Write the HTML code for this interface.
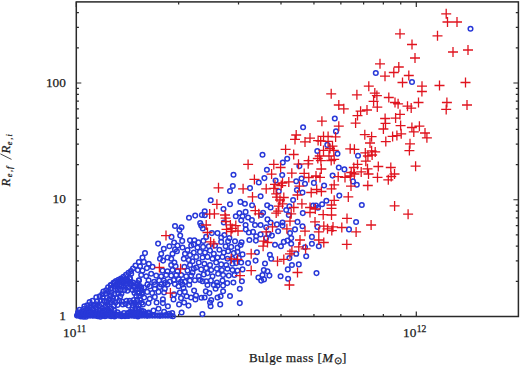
<!DOCTYPE html>
<html><head><meta charset="utf-8"><style>
html,body{margin:0;padding:0;background:#fff;width:520px;height:365px;overflow:hidden}
svg{display:block}
text{font-family:"Liberation Serif",serif;fill:#1a1a1a;stroke:#1a1a1a;stroke-width:0.25px}
</style></head><body>
<svg width="520" height="365" viewBox="0 0 520 365">
<rect x="76.3" y="1.9" width="442.1" height="314.6" fill="none" stroke="#2a2a2a" stroke-width="1.5"/>
<path d="M76.30 316.5v-5M76.30 1.9v5M178.65 316.5v-2.6M178.65 1.9v2.6M238.52 316.5v-2.6M238.52 1.9v2.6M281.00 316.5v-2.6M281.00 1.9v2.6M313.95 316.5v-2.6M313.95 1.9v2.6M340.87 316.5v-2.6M340.87 1.9v2.6M363.63 316.5v-2.6M363.63 1.9v2.6M383.35 316.5v-2.6M383.35 1.9v2.6M400.74 316.5v-2.6M400.74 1.9v2.6M416.30 316.5v-5M416.30 1.9v5M76.3 316.50h5M518.4 316.50h-5M76.3 281.35h2.6M518.4 281.35h-2.6M76.3 260.80h2.6M518.4 260.80h-2.6M76.3 246.21h2.6M518.4 246.21h-2.6M76.3 234.90h2.6M518.4 234.90h-2.6M76.3 225.65h2.6M518.4 225.65h-2.6M76.3 217.83h2.6M518.4 217.83h-2.6M76.3 211.06h2.6M518.4 211.06h-2.6M76.3 205.09h2.6M518.4 205.09h-2.6M76.3 199.75h5M518.4 199.75h-5M76.3 164.60h2.6M518.4 164.60h-2.6M76.3 144.05h2.6M518.4 144.05h-2.6M76.3 129.46h2.6M518.4 129.46h-2.6M76.3 118.15h2.6M518.4 118.15h-2.6M76.3 108.90h2.6M518.4 108.90h-2.6M76.3 101.08h2.6M518.4 101.08h-2.6M76.3 94.31h2.6M518.4 94.31h-2.6M76.3 88.34h2.6M518.4 88.34h-2.6M76.3 83.00h5M518.4 83.00h-5M76.3 47.85h2.6M518.4 47.85h-2.6M76.3 27.30h2.6M518.4 27.30h-2.6M76.3 12.71h2.6M518.4 12.71h-2.6" stroke="#2a2a2a" stroke-width="1.2" fill="none"/>
<g fill="none" stroke="#2838d8" stroke-width="1.5"><circle cx="470.5" cy="28.8" r="2.3"/><circle cx="412.0" cy="82.0" r="2.3"/><circle cx="375.8" cy="73.0" r="2.3"/><circle cx="334.8" cy="118.5" r="2.3"/><circle cx="303.1" cy="127.2" r="2.3"/><circle cx="262.5" cy="154.8" r="2.3"/><circle cx="287.2" cy="158.8" r="2.3"/><circle cx="282.8" cy="162.5" r="2.3"/><circle cx="266.9" cy="169.8" r="2.3"/><circle cx="299.4" cy="166.1" r="2.3"/><circle cx="317.3" cy="151.0" r="2.3"/><circle cx="282.2" cy="175.0" r="2.3"/><circle cx="301.5" cy="178.5" r="2.3"/><circle cx="336.0" cy="131.4" r="2.3"/><circle cx="327.3" cy="144.9" r="2.3"/><circle cx="337.5" cy="153.7" r="2.3"/><circle cx="358.0" cy="155.7" r="2.3"/><circle cx="338.8" cy="167.5" r="2.3"/><circle cx="344.4" cy="169.4" r="2.3"/><circle cx="332.6" cy="175.6" r="2.3"/><circle cx="233.5" cy="174.8" r="2.3"/><circle cx="232.8" cy="186.0" r="2.3"/><circle cx="230.0" cy="191.0" r="2.3"/><circle cx="250.0" cy="188.1" r="2.3"/><circle cx="210.7" cy="200.3" r="2.3"/><circle cx="230.0" cy="204.2" r="2.3"/><circle cx="240.4" cy="201.9" r="2.3"/><circle cx="244.9" cy="203.8" r="2.3"/><circle cx="252.1" cy="205.3" r="2.3"/><circle cx="264.4" cy="178.1" r="2.3"/><circle cx="258.8" cy="182.5" r="2.3"/><circle cx="260.6" cy="196.2" r="2.3"/><circle cx="267.2" cy="205.3" r="2.3"/><circle cx="270.6" cy="207.5" r="2.3"/><circle cx="263.1" cy="212.8" r="2.3"/><circle cx="275.6" cy="180.6" r="2.3"/><circle cx="278.8" cy="191.2" r="2.3"/><circle cx="296.2" cy="181.2" r="2.3"/><circle cx="305.0" cy="183.8" r="2.3"/><circle cx="296.9" cy="190.0" r="2.3"/><circle cx="302.5" cy="192.5" r="2.3"/><circle cx="313.9" cy="182.9" r="2.3"/><circle cx="293.1" cy="200.0" r="2.3"/><circle cx="289.4" cy="206.2" r="2.3"/><circle cx="286.2" cy="210.0" r="2.3"/><circle cx="302.8" cy="213.1" r="2.3"/><circle cx="313.1" cy="205.6" r="2.3"/><circle cx="324.1" cy="185.5" r="2.3"/><circle cx="353.0" cy="181.4" r="2.3"/><circle cx="356.8" cy="184.8" r="2.3"/><circle cx="339.3" cy="195.6" r="2.3"/><circle cx="326.4" cy="200.7" r="2.3"/><circle cx="322.1" cy="204.3" r="2.3"/><circle cx="316.0" cy="205.6" r="2.3"/><circle cx="318.0" cy="207.7" r="2.3"/><circle cx="361.8" cy="205.0" r="2.3"/><circle cx="356.1" cy="222.0" r="2.3"/><circle cx="189.0" cy="217.8" r="2.3"/><circle cx="195.2" cy="215.6" r="2.3"/><circle cx="201.9" cy="215.0" r="2.3"/><circle cx="204.7" cy="211.2" r="2.3"/><circle cx="204.8" cy="215.2" r="2.3"/><circle cx="200.2" cy="223.1" r="2.3"/><circle cx="201.2" cy="225.6" r="2.3"/><circle cx="202.8" cy="228.5" r="2.3"/><circle cx="175.0" cy="226.0" r="2.3"/><circle cx="181.5" cy="227.2" r="2.3"/><circle cx="179.4" cy="230.0" r="2.3"/><circle cx="171.5" cy="236.9" r="2.3"/><circle cx="180.2" cy="235.6" r="2.3"/><circle cx="182.2" cy="240.9" r="2.3"/><circle cx="174.1" cy="242.5" r="2.3"/><circle cx="158.1" cy="243.6" r="2.3"/><circle cx="190.0" cy="240.3" r="2.3"/><circle cx="194.4" cy="240.2" r="2.3"/><circle cx="198.4" cy="242.4" r="2.3"/><circle cx="203.4" cy="240.9" r="2.3"/><circle cx="206.2" cy="236.9" r="2.3"/><circle cx="223.5" cy="209.0" r="2.3"/><circle cx="235.8" cy="216.2" r="2.3"/><circle cx="239.4" cy="213.1" r="2.3"/><circle cx="242.5" cy="216.2" r="2.3"/><circle cx="245.6" cy="211.9" r="2.3"/><circle cx="248.1" cy="217.5" r="2.3"/><circle cx="251.9" cy="220.0" r="2.3"/><circle cx="255.0" cy="225.0" r="2.3"/><circle cx="261.2" cy="215.0" r="2.3"/><circle cx="267.5" cy="219.4" r="2.3"/><circle cx="260.6" cy="225.0" r="2.3"/><circle cx="266.2" cy="227.2" r="2.3"/><circle cx="241.2" cy="220.3" r="2.3"/><circle cx="245.6" cy="225.0" r="2.3"/><circle cx="245.8" cy="229.4" r="2.3"/><circle cx="248.8" cy="232.5" r="2.3"/><circle cx="253.1" cy="231.9" r="2.3"/><circle cx="256.2" cy="236.2" r="2.3"/><circle cx="260.6" cy="234.4" r="2.3"/><circle cx="223.8" cy="222.5" r="2.3"/><circle cx="211.9" cy="233.1" r="2.3"/><circle cx="217.5" cy="233.1" r="2.3"/><circle cx="224.4" cy="235.0" r="2.3"/><circle cx="221.2" cy="237.5" r="2.3"/><circle cx="229.4" cy="238.1" r="2.3"/><circle cx="235.0" cy="241.2" r="2.3"/><circle cx="249.4" cy="240.0" r="2.3"/><circle cx="255.9" cy="240.6" r="2.3"/><circle cx="266.2" cy="238.1" r="2.3"/><circle cx="268.8" cy="233.8" r="2.3"/><circle cx="241.6" cy="242.2" r="2.3"/><circle cx="288.8" cy="215.0" r="2.3"/><circle cx="270.6" cy="222.5" r="2.3"/><circle cx="276.9" cy="224.4" r="2.3"/><circle cx="282.5" cy="222.5" r="2.3"/><circle cx="282.5" cy="225.6" r="2.3"/><circle cx="278.1" cy="231.2" r="2.3"/><circle cx="271.9" cy="235.6" r="2.3"/><circle cx="290.0" cy="233.1" r="2.3"/><circle cx="295.0" cy="229.4" r="2.3"/><circle cx="297.5" cy="221.9" r="2.3"/><circle cx="302.5" cy="226.2" r="2.3"/><circle cx="275.0" cy="244.7" r="2.3"/><circle cx="280.9" cy="246.2" r="2.3"/><circle cx="283.8" cy="241.9" r="2.3"/><circle cx="287.5" cy="240.6" r="2.3"/><circle cx="291.2" cy="243.8" r="2.3"/><circle cx="291.2" cy="238.1" r="2.3"/><circle cx="311.9" cy="236.9" r="2.3"/><circle cx="311.9" cy="243.8" r="2.3"/><circle cx="317.5" cy="226.9" r="2.3"/><circle cx="318.8" cy="246.2" r="2.3"/><circle cx="269.9" cy="254.7" r="2.3"/><circle cx="305.0" cy="247.2" r="2.3"/><circle cx="349.0" cy="229.4" r="2.3"/><circle cx="256.9" cy="252.3" r="2.3"/><circle cx="255.6" cy="260.6" r="2.3"/><circle cx="271.2" cy="258.8" r="2.3"/><circle cx="265.0" cy="263.5" r="2.3"/><circle cx="263.8" cy="270.0" r="2.3"/><circle cx="267.5" cy="271.2" r="2.3"/><circle cx="269.4" cy="275.6" r="2.3"/><circle cx="262.5" cy="275.0" r="2.3"/><circle cx="258.4" cy="277.5" r="2.3"/><circle cx="264.0" cy="279.4" r="2.3"/><circle cx="280.6" cy="276.2" r="2.3"/><circle cx="288.1" cy="278.8" r="2.3"/><circle cx="289.4" cy="258.1" r="2.3"/><circle cx="291.9" cy="265.0" r="2.3"/><circle cx="298.8" cy="264.4" r="2.3"/><circle cx="287.8" cy="269.4" r="2.3"/><circle cx="306.2" cy="256.2" r="2.3"/><circle cx="296.2" cy="253.8" r="2.3"/><circle cx="316.5" cy="273.1" r="2.3"/><circle cx="221.2" cy="241.9" r="2.3"/><circle cx="228.1" cy="241.2" r="2.3"/><circle cx="197.5" cy="247.5" r="2.3"/><circle cx="203.1" cy="246.9" r="2.3"/><circle cx="208.8" cy="246.2" r="2.3"/><circle cx="215.0" cy="245.6" r="2.3"/><circle cx="219.4" cy="249.7" r="2.3"/><circle cx="225.6" cy="246.2" r="2.3"/><circle cx="231.2" cy="246.9" r="2.3"/><circle cx="237.5" cy="247.5" r="2.3"/><circle cx="240.6" cy="245.0" r="2.3"/><circle cx="200.0" cy="251.9" r="2.3"/><circle cx="205.0" cy="252.5" r="2.3"/><circle cx="210.0" cy="250.6" r="2.3"/><circle cx="213.8" cy="253.8" r="2.3"/><circle cx="223.8" cy="252.5" r="2.3"/><circle cx="228.1" cy="251.2" r="2.3"/><circle cx="233.8" cy="253.1" r="2.3"/><circle cx="237.5" cy="251.9" r="2.3"/><circle cx="242.5" cy="254.4" r="2.3"/><circle cx="196.2" cy="256.9" r="2.3"/><circle cx="202.5" cy="257.5" r="2.3"/><circle cx="207.5" cy="256.9" r="2.3"/><circle cx="212.5" cy="258.8" r="2.3"/><circle cx="217.5" cy="257.5" r="2.3"/><circle cx="222.5" cy="256.9" r="2.3"/><circle cx="227.5" cy="258.8" r="2.3"/><circle cx="232.5" cy="258.8" r="2.3"/><circle cx="238.8" cy="258.1" r="2.3"/><circle cx="198.8" cy="262.5" r="2.3"/><circle cx="204.4" cy="263.8" r="2.3"/><circle cx="210.0" cy="265.0" r="2.3"/><circle cx="216.2" cy="262.5" r="2.3"/><circle cx="221.2" cy="264.4" r="2.3"/><circle cx="226.2" cy="265.0" r="2.3"/><circle cx="232.5" cy="263.8" r="2.3"/><circle cx="236.2" cy="263.1" r="2.3"/><circle cx="241.2" cy="262.5" r="2.3"/><circle cx="248.1" cy="263.1" r="2.3"/><circle cx="196.2" cy="267.5" r="2.3"/><circle cx="201.2" cy="269.4" r="2.3"/><circle cx="206.2" cy="268.1" r="2.3"/><circle cx="211.2" cy="270.0" r="2.3"/><circle cx="216.9" cy="268.8" r="2.3"/><circle cx="221.9" cy="270.0" r="2.3"/><circle cx="227.5" cy="268.8" r="2.3"/><circle cx="232.5" cy="270.0" r="2.3"/><circle cx="237.5" cy="270.6" r="2.3"/><circle cx="242.5" cy="269.4" r="2.3"/><circle cx="198.8" cy="276.2" r="2.3"/><circle cx="203.8" cy="274.4" r="2.3"/><circle cx="207.5" cy="273.1" r="2.3"/><circle cx="212.5" cy="276.2" r="2.3"/><circle cx="218.1" cy="273.8" r="2.3"/><circle cx="223.1" cy="275.0" r="2.3"/><circle cx="228.8" cy="275.6" r="2.3"/><circle cx="234.4" cy="275.0" r="2.3"/><circle cx="200.0" cy="280.0" r="2.3"/><circle cx="206.2" cy="281.2" r="2.3"/><circle cx="210.9" cy="280.6" r="2.3"/><circle cx="216.9" cy="282.5" r="2.3"/><circle cx="222.5" cy="280.6" r="2.3"/><circle cx="227.2" cy="283.1" r="2.3"/><circle cx="233.4" cy="282.5" r="2.3"/><circle cx="241.9" cy="281.2" r="2.3"/><circle cx="193.8" cy="244.4" r="2.3"/><circle cx="163.8" cy="248.8" r="2.3"/><circle cx="169.4" cy="246.2" r="2.3"/><circle cx="175.0" cy="249.4" r="2.3"/><circle cx="177.5" cy="245.6" r="2.3"/><circle cx="182.5" cy="247.5" r="2.3"/><circle cx="187.5" cy="250.0" r="2.3"/><circle cx="191.2" cy="245.6" r="2.3"/><circle cx="145.0" cy="253.1" r="2.3"/><circle cx="161.2" cy="253.8" r="2.3"/><circle cx="167.5" cy="257.5" r="2.3"/><circle cx="172.5" cy="253.8" r="2.3"/><circle cx="176.9" cy="251.2" r="2.3"/><circle cx="185.0" cy="253.8" r="2.3"/><circle cx="190.0" cy="255.0" r="2.3"/><circle cx="193.8" cy="252.5" r="2.3"/><circle cx="142.5" cy="257.5" r="2.3"/><circle cx="160.0" cy="258.8" r="2.3"/><circle cx="163.1" cy="260.6" r="2.3"/><circle cx="171.2" cy="258.8" r="2.3"/><circle cx="174.4" cy="262.5" r="2.3"/><circle cx="183.8" cy="258.8" r="2.3"/><circle cx="188.8" cy="260.0" r="2.3"/><circle cx="192.5" cy="261.2" r="2.3"/><circle cx="138.9" cy="262.1" r="2.3"/><circle cx="143.8" cy="261.9" r="2.3"/><circle cx="148.8" cy="263.8" r="2.3"/><circle cx="152.5" cy="266.9" r="2.3"/><circle cx="140.0" cy="266.2" r="2.3"/><circle cx="135.5" cy="265.5" r="2.3"/><circle cx="171.2" cy="265.0" r="2.3"/><circle cx="175.6" cy="266.2" r="2.3"/><circle cx="184.4" cy="266.9" r="2.3"/><circle cx="190.0" cy="265.0" r="2.3"/><circle cx="193.8" cy="268.8" r="2.3"/><circle cx="133.0" cy="268.6" r="2.3"/><circle cx="137.8" cy="270.1" r="2.3"/><circle cx="142.5" cy="270.6" r="2.3"/><circle cx="146.9" cy="268.1" r="2.3"/><circle cx="162.5" cy="270.6" r="2.3"/><circle cx="167.5" cy="271.2" r="2.3"/><circle cx="172.5" cy="270.0" r="2.3"/><circle cx="177.5" cy="271.2" r="2.3"/><circle cx="187.5" cy="270.6" r="2.3"/><circle cx="192.5" cy="272.5" r="2.3"/><circle cx="131.2" cy="273.8" r="2.3"/><circle cx="141.2" cy="275.0" r="2.3"/><circle cx="146.2" cy="276.2" r="2.3"/><circle cx="151.2" cy="273.8" r="2.3"/><circle cx="156.2" cy="275.6" r="2.3"/><circle cx="161.2" cy="276.2" r="2.3"/><circle cx="166.2" cy="275.0" r="2.3"/><circle cx="171.2" cy="275.6" r="2.3"/><circle cx="176.2" cy="275.0" r="2.3"/><circle cx="181.2" cy="275.0" r="2.3"/><circle cx="186.2" cy="276.2" r="2.3"/><circle cx="191.2" cy="275.6" r="2.3"/><circle cx="138.8" cy="280.6" r="2.3"/><circle cx="148.6" cy="280.3" r="2.3"/><circle cx="154.2" cy="281.9" r="2.3"/><circle cx="159.2" cy="280.6" r="2.3"/><circle cx="163.8" cy="280.6" r="2.3"/><circle cx="169.9" cy="281.6" r="2.3"/><circle cx="173.8" cy="280.0" r="2.3"/><circle cx="178.8" cy="279.4" r="2.3"/><circle cx="184.9" cy="281.9" r="2.3"/><circle cx="189.9" cy="280.6" r="2.3"/><circle cx="194.9" cy="280.3" r="2.3"/><circle cx="131.1" cy="283.6" r="2.3"/><circle cx="136.8" cy="284.6" r="2.3"/><circle cx="147.5" cy="284.4" r="2.3"/><circle cx="155.0" cy="284.4" r="2.3"/><circle cx="161.2" cy="284.4" r="2.3"/><circle cx="167.5" cy="284.4" r="2.3"/><circle cx="174.9" cy="284.1" r="2.3"/><circle cx="182.5" cy="284.4" r="2.3"/><circle cx="189.2" cy="284.7" r="2.3"/><circle cx="131.0" cy="271.1" r="2.3"/><circle cx="128.5" cy="272.9" r="2.3"/><circle cx="126.0" cy="274.8" r="2.3"/><circle cx="123.5" cy="276.7" r="2.3"/><circle cx="121.0" cy="278.6" r="2.3"/><circle cx="118.5" cy="279.8" r="2.3"/><circle cx="116.0" cy="281.1" r="2.3"/><circle cx="113.5" cy="282.9" r="2.3"/><circle cx="111.0" cy="285.4" r="2.3"/><circle cx="129.8" cy="277.9" r="2.3"/><circle cx="127.2" cy="279.8" r="2.3"/><circle cx="124.8" cy="281.1" r="2.3"/><circle cx="122.2" cy="282.3" r="2.3"/><circle cx="119.8" cy="284.2" r="2.3"/><circle cx="117.2" cy="285.4" r="2.3"/><circle cx="114.8" cy="286.7" r="2.3"/><circle cx="126.0" cy="285.4" r="2.3"/><circle cx="123.5" cy="286.7" r="2.3"/><circle cx="133.5" cy="286.7" r="2.3"/><circle cx="139.8" cy="286.1" r="2.3"/><circle cx="164.8" cy="283.1" r="2.3"/><circle cx="181.0" cy="281.9" r="2.3"/><circle cx="144.1" cy="287.5" r="2.3"/><circle cx="149.8" cy="286.2" r="2.3"/><circle cx="154.8" cy="288.8" r="2.3"/><circle cx="159.8" cy="286.9" r="2.3"/><circle cx="164.8" cy="288.8" r="2.3"/><circle cx="178.5" cy="286.2" r="2.3"/><circle cx="183.5" cy="288.1" r="2.3"/><circle cx="142.2" cy="292.5" r="2.3"/><circle cx="147.2" cy="291.9" r="2.3"/><circle cx="152.2" cy="293.1" r="2.3"/><circle cx="158.5" cy="291.9" r="2.3"/><circle cx="164.1" cy="292.5" r="2.3"/><circle cx="174.1" cy="294.4" r="2.3"/><circle cx="179.8" cy="292.5" r="2.3"/><circle cx="184.8" cy="291.9" r="2.3"/><circle cx="194.1" cy="290.6" r="2.3"/><circle cx="205.8" cy="291.2" r="2.3"/><circle cx="144.1" cy="297.5" r="2.3"/><circle cx="149.8" cy="298.8" r="2.3"/><circle cx="154.8" cy="296.9" r="2.3"/><circle cx="162.9" cy="299.4" r="2.3"/><circle cx="173.5" cy="299.4" r="2.3"/><circle cx="181.0" cy="298.1" r="2.3"/><circle cx="186.6" cy="296.2" r="2.3"/><circle cx="191.0" cy="297.5" r="2.3"/><circle cx="196.0" cy="295.6" r="2.3"/><circle cx="195.4" cy="299.4" r="2.3"/><circle cx="201.4" cy="297.8" r="2.3"/><circle cx="204.6" cy="297.5" r="2.3"/><circle cx="142.9" cy="304.4" r="2.3"/><circle cx="148.5" cy="303.1" r="2.3"/><circle cx="156.6" cy="302.5" r="2.3"/><circle cx="162.9" cy="303.1" r="2.3"/><circle cx="167.9" cy="306.2" r="2.3"/><circle cx="179.1" cy="304.4" r="2.3"/><circle cx="184.1" cy="302.5" r="2.3"/><circle cx="188.5" cy="305.6" r="2.3"/><circle cx="143.5" cy="311.2" r="2.3"/><circle cx="148.5" cy="312.5" r="2.3"/><circle cx="153.5" cy="310.6" r="2.3"/><circle cx="158.5" cy="308.8" r="2.3"/><circle cx="164.1" cy="311.9" r="2.3"/><circle cx="169.1" cy="313.8" r="2.3"/><circle cx="172.2" cy="313.1" r="2.3"/><circle cx="181.6" cy="312.5" r="2.3"/><circle cx="202.4" cy="314.1" r="2.3"/><circle cx="142.2" cy="314.4" r="2.3"/><circle cx="147.2" cy="315.6" r="2.3"/><circle cx="153.5" cy="315.0" r="2.3"/><circle cx="159.8" cy="315.6" r="2.3"/><circle cx="166.0" cy="315.0" r="2.3"/><circle cx="172.9" cy="316.2" r="2.3"/><circle cx="202.5" cy="281.2" r="2.3"/><circle cx="207.5" cy="285.0" r="2.3"/><circle cx="213.8" cy="285.0" r="2.3"/><circle cx="217.5" cy="285.6" r="2.3"/><circle cx="223.1" cy="285.6" r="2.3"/><circle cx="239.8" cy="288.8" r="2.3"/><circle cx="215.6" cy="288.8" r="2.3"/><circle cx="209.4" cy="293.1" r="2.3"/><circle cx="223.1" cy="291.2" r="2.3"/><circle cx="217.5" cy="297.5" r="2.3"/><circle cx="220.6" cy="296.2" r="2.3"/><circle cx="230.0" cy="296.0" r="2.3"/><circle cx="211.2" cy="300.0" r="2.3"/><circle cx="210.0" cy="302.5" r="2.3"/><circle cx="210.6" cy="306.2" r="2.3"/><circle cx="220.2" cy="304.4" r="2.3"/><circle cx="239.8" cy="303.1" r="2.3"/><circle cx="261.2" cy="280.6" r="2.3"/><circle cx="119.1" cy="281.8" r="2.3"/><circle cx="111.6" cy="292.9" r="2.3"/><circle cx="104.3" cy="310.4" r="2.3"/><circle cx="117.6" cy="315.0" r="2.3"/><circle cx="114.3" cy="294.1" r="2.3"/><circle cx="132.7" cy="290.0" r="2.3"/><circle cx="96.7" cy="310.0" r="2.3"/><circle cx="118.3" cy="293.2" r="2.3"/><circle cx="97.1" cy="301.3" r="2.3"/><circle cx="106.2" cy="290.4" r="2.3"/><circle cx="128.5" cy="305.6" r="2.3"/><circle cx="92.5" cy="300.8" r="2.3"/><circle cx="110.9" cy="312.3" r="2.3"/><circle cx="124.3" cy="289.9" r="2.3"/><circle cx="126.6" cy="300.8" r="2.3"/><circle cx="122.0" cy="301.6" r="2.3"/><circle cx="131.5" cy="314.9" r="2.3"/><circle cx="107.6" cy="304.2" r="2.3"/><circle cx="101.8" cy="304.4" r="2.3"/><circle cx="102.1" cy="312.1" r="2.3"/><circle cx="130.2" cy="311.8" r="2.3"/><circle cx="115.1" cy="289.0" r="2.3"/><circle cx="100.7" cy="300.5" r="2.3"/><circle cx="138.9" cy="305.2" r="2.3"/><circle cx="110.3" cy="302.5" r="2.3"/><circle cx="135.4" cy="308.6" r="2.3"/><circle cx="102.2" cy="294.2" r="2.3"/><circle cx="78.2" cy="312.2" r="2.3"/><circle cx="116.7" cy="284.6" r="2.3"/><circle cx="107.0" cy="297.4" r="2.3"/><circle cx="130.8" cy="285.1" r="2.3"/><circle cx="78.0" cy="315.1" r="2.3"/><circle cx="111.1" cy="316.2" r="2.3"/><circle cx="133.0" cy="305.5" r="2.3"/><circle cx="87.4" cy="308.3" r="2.3"/><circle cx="111.4" cy="308.6" r="2.3"/><circle cx="132.3" cy="309.6" r="2.3"/><circle cx="93.5" cy="305.3" r="2.3"/><circle cx="139.2" cy="296.0" r="2.3"/><circle cx="137.9" cy="316.5" r="2.3"/><circle cx="139.1" cy="292.9" r="2.3"/><circle cx="102.8" cy="315.0" r="2.3"/><circle cx="124.0" cy="285.5" r="2.3"/><circle cx="85.1" cy="313.6" r="2.3"/><circle cx="99.7" cy="296.4" r="2.3"/><circle cx="114.7" cy="313.4" r="2.3"/><circle cx="109.4" cy="299.2" r="2.3"/><circle cx="136.3" cy="295.8" r="2.3"/><circle cx="116.6" cy="298.2" r="2.3"/><circle cx="107.8" cy="314.8" r="2.3"/><circle cx="138.2" cy="288.9" r="2.3"/><circle cx="127.8" cy="313.1" r="2.3"/><circle cx="134.3" cy="315.8" r="2.3"/><circle cx="90.9" cy="315.2" r="2.3"/><circle cx="102.6" cy="297.5" r="2.3"/><circle cx="141.3" cy="310.6" r="2.3"/><circle cx="123.8" cy="279.7" r="2.3"/><circle cx="80.7" cy="316.4" r="2.3"/><circle cx="128.1" cy="315.9" r="2.3"/><circle cx="113.9" cy="305.6" r="2.3"/><circle cx="82.0" cy="311.5" r="2.3"/><circle cx="111.0" cy="288.1" r="2.3"/><circle cx="137.7" cy="283.0" r="2.3"/><circle cx="108.9" cy="310.7" r="2.3"/><circle cx="121.5" cy="316.3" r="2.3"/><circle cx="93.7" cy="315.5" r="2.3"/><circle cx="140.2" cy="299.8" r="2.3"/><circle cx="125.7" cy="304.0" r="2.3"/><circle cx="134.9" cy="302.8" r="2.3"/><circle cx="117.5" cy="304.9" r="2.3"/><circle cx="125.0" cy="316.1" r="2.3"/><circle cx="120.8" cy="290.1" r="2.3"/><circle cx="135.0" cy="286.6" r="2.3"/><circle cx="140.6" cy="314.6" r="2.3"/><circle cx="135.6" cy="290.0" r="2.3"/><circle cx="96.0" cy="307.1" r="2.3"/><circle cx="120.2" cy="314.2" r="2.3"/><circle cx="121.2" cy="286.5" r="2.3"/><circle cx="91.0" cy="307.9" r="2.3"/><circle cx="135.3" cy="312.6" r="2.3"/><circle cx="99.9" cy="310.2" r="2.3"/><circle cx="126.7" cy="280.5" r="2.3"/><circle cx="97.8" cy="316.2" r="2.3"/><circle cx="115.5" cy="302.6" r="2.3"/><circle cx="87.2" cy="305.4" r="2.3"/><circle cx="128.0" cy="287.4" r="2.3"/><circle cx="124.0" cy="313.1" r="2.3"/><circle cx="104.0" cy="301.1" r="2.3"/><circle cx="133.7" cy="300.1" r="2.3"/><circle cx="83.4" cy="316.7" r="2.3"/><circle cx="89.6" cy="302.1" r="2.3"/><circle cx="105.1" cy="306.5" r="2.3"/><circle cx="117.9" cy="289.9" r="2.3"/><circle cx="99.2" cy="305.8" r="2.3"/><circle cx="133.0" cy="282.5" r="2.3"/><circle cx="86.7" cy="311.0" r="2.3"/><circle cx="110.7" cy="285.1" r="2.3"/><circle cx="90.3" cy="305.0" r="2.3"/><circle cx="102.2" cy="308.0" r="2.3"/><circle cx="96.3" cy="297.2" r="2.3"/><circle cx="120.2" cy="296.4" r="2.3"/><circle cx="129.6" cy="300.9" r="2.3"/><circle cx="130.0" cy="282.0" r="2.3"/><circle cx="138.4" cy="308.8" r="2.3"/><circle cx="120.9" cy="279.5" r="2.3"/><circle cx="131.7" cy="302.9" r="2.3"/><circle cx="97.3" cy="313.3" r="2.3"/><circle cx="100.4" cy="316.7" r="2.3"/><circle cx="84.4" cy="306.2" r="2.3"/><circle cx="92.9" cy="310.1" r="2.3"/><circle cx="122.5" cy="282.9" r="2.3"/><circle cx="105.0" cy="316.3" r="2.3"/><circle cx="113.0" cy="297.7" r="2.3"/><circle cx="114.6" cy="282.3" r="2.3"/><circle cx="121.4" cy="293.8" r="2.3"/><circle cx="106.0" cy="293.7" r="2.3"/><circle cx="83.8" cy="309.1" r="2.3"/><circle cx="122.8" cy="304.5" r="2.3"/><circle cx="110.3" cy="295.9" r="2.3"/><circle cx="126.1" cy="283.4" r="2.3"/><circle cx="114.5" cy="316.5" r="2.3"/><circle cx="137.1" cy="300.4" r="2.3"/><circle cx="127.3" cy="290.8" r="2.3"/><circle cx="141.3" cy="287.7" r="2.3"/><circle cx="90.2" cy="312.6" r="2.3"/><circle cx="94.3" cy="312.9" r="2.3"/><circle cx="87.6" cy="314.8" r="2.3"/><circle cx="114.2" cy="310.4" r="2.3"/><circle cx="100.3" cy="313.9" r="2.3"/><circle cx="141.4" cy="290.6" r="2.3"/><circle cx="119.2" cy="300.6" r="2.3"/><circle cx="113.9" cy="285.9" r="2.3"/><circle cx="82.4" cy="314.2" r="2.3"/><circle cx="138.3" cy="311.7" r="2.3"/><circle cx="106.4" cy="311.8" r="2.3"/><circle cx="134.5" cy="293.0" r="2.3"/><circle cx="141.6" cy="302.7" r="2.3"/><circle cx="136.1" cy="305.8" r="2.3"/><circle cx="109.5" cy="306.3" r="2.3"/><circle cx="108.8" cy="291.7" r="2.3"/><circle cx="106.6" cy="309.2" r="2.3"/><circle cx="141.9" cy="293.9" r="2.3"/><circle cx="108.1" cy="287.3" r="2.3"/><circle cx="130.1" cy="279.1" r="2.3"/><circle cx="132.8" cy="312.2" r="2.3"/><circle cx="96.1" cy="304.2" r="2.3"/><circle cx="112.8" cy="300.8" r="2.3"/><circle cx="137.8" cy="286.0" r="2.3"/><circle cx="117.5" cy="312.4" r="2.3"/><circle cx="79.5" cy="309.9" r="2.3"/><circle cx="139.0" cy="280.2" r="2.3"/><circle cx="106.9" cy="301.2" r="2.3"/><circle cx="86.0" cy="316.7" r="2.3"/><circle cx="103.4" cy="291.6" r="2.3"/><circle cx="89.4" cy="309.9" r="2.3"/><circle cx="77.0" cy="315.6" r="2.3"/><circle cx="79.6" cy="315.6" r="2.3"/><circle cx="82.2" cy="315.6" r="2.3"/><circle cx="84.8" cy="315.6" r="2.3"/><circle cx="87.4" cy="315.6" r="2.3"/><circle cx="90.0" cy="315.6" r="2.3"/><circle cx="92.6" cy="315.6" r="2.3"/><circle cx="95.2" cy="315.6" r="2.3"/><circle cx="97.8" cy="315.6" r="2.3"/><circle cx="100.4" cy="315.6" r="2.3"/><circle cx="103.0" cy="315.6" r="2.3"/><circle cx="105.6" cy="315.6" r="2.3"/><circle cx="108.2" cy="315.6" r="2.3"/><circle cx="110.8" cy="315.6" r="2.3"/><circle cx="113.4" cy="315.6" r="2.3"/><circle cx="116.0" cy="315.6" r="2.3"/><circle cx="118.6" cy="315.6" r="2.3"/><circle cx="121.2" cy="315.6" r="2.3"/><circle cx="123.8" cy="315.6" r="2.3"/><circle cx="126.4" cy="315.6" r="2.3"/><circle cx="129.0" cy="315.6" r="2.3"/><circle cx="131.6" cy="315.6" r="2.3"/><circle cx="134.2" cy="315.6" r="2.3"/><circle cx="136.8" cy="315.6" r="2.3"/><circle cx="139.4" cy="315.6" r="2.3"/><circle cx="142.0" cy="315.6" r="2.3"/><circle cx="144.6" cy="315.6" r="2.3"/><circle cx="147.2" cy="315.6" r="2.3"/><circle cx="149.8" cy="315.6" r="2.3"/><circle cx="152.4" cy="315.6" r="2.3"/><circle cx="155.0" cy="315.6" r="2.3"/><circle cx="157.6" cy="315.6" r="2.3"/><circle cx="160.2" cy="315.6" r="2.3"/><circle cx="162.8" cy="315.6" r="2.3"/><circle cx="165.4" cy="315.6" r="2.3"/><circle cx="168.0" cy="315.6" r="2.3"/><circle cx="170.6" cy="315.6" r="2.3"/><circle cx="78.2" cy="313.2" r="2.3"/><circle cx="81.0" cy="313.2" r="2.3"/><circle cx="83.8" cy="313.2" r="2.3"/><circle cx="86.6" cy="313.2" r="2.3"/><circle cx="89.4" cy="313.2" r="2.3"/><circle cx="92.2" cy="313.2" r="2.3"/><circle cx="95.0" cy="313.2" r="2.3"/><circle cx="97.8" cy="313.2" r="2.3"/><circle cx="100.6" cy="313.2" r="2.3"/><circle cx="103.4" cy="313.2" r="2.3"/><circle cx="106.2" cy="313.2" r="2.3"/><circle cx="109.0" cy="313.2" r="2.3"/><circle cx="111.8" cy="313.2" r="2.3"/><circle cx="128.6" cy="313.2" r="2.3"/><circle cx="131.4" cy="313.2" r="2.3"/><circle cx="134.2" cy="313.2" r="2.3"/><circle cx="137.0" cy="313.2" r="2.3"/><circle cx="139.8" cy="313.2" r="2.3"/><circle cx="142.6" cy="313.2" r="2.3"/><circle cx="145.4" cy="313.2" r="2.3"/><circle cx="148.2" cy="313.2" r="2.3"/></g>
<path d="M441.2 13.8h10.0M446.2 8.8v10.0M442.5 22.0h10.0M447.5 17.0v10.0M452.0 22.0h10.0M457.0 17.0v10.0M395.0 33.8h10.0M400.0 28.8v10.0M432.5 35.8h10.0M437.5 30.8v10.0M407.0 44.5h10.0M412.0 39.5v10.0M448.0 52.0h10.0M453.0 47.0v10.0M463.0 50.0h10.0M468.0 45.0v10.0M410.0 58.0h10.0M415.0 53.0v10.0M393.8 67.0h10.0M398.8 62.0v10.0M388.8 72.5h10.0M393.8 67.5v10.0M403.8 75.5h10.0M408.8 70.5v10.0M397.5 82.5h10.0M402.5 77.5v10.0M417.0 86.2h10.0M422.0 81.2v10.0M434.5 85.5h10.0M439.5 80.5v10.0M460.5 82.5h10.0M465.5 77.5v10.0M375.0 63.8h10.0M380.0 58.8v10.0M380.0 76.2h10.0M385.0 71.2v10.0M363.8 86.2h10.0M368.8 81.2v10.0M416.9 91.5h10.0M421.9 86.5v10.0M383.8 97.5h10.0M388.8 92.5v10.0M390.0 102.5h10.0M395.0 97.5v10.0M393.1 103.8h10.0M398.1 98.8v10.0M402.5 106.2h10.0M407.5 101.2v10.0M406.2 108.1h10.0M411.2 103.1v10.0M413.5 102.5h10.0M418.5 97.5v10.0M441.9 102.5h10.0M446.9 97.5v10.0M441.2 109.4h10.0M446.2 104.4v10.0M395.0 114.4h10.0M400.0 109.4v10.0M390.6 118.1h10.0M395.6 113.1v10.0M395.6 125.6h10.0M400.6 120.6v10.0M406.9 127.5h10.0M411.9 122.5v10.0M414.4 126.2h10.0M419.4 121.2v10.0M420.0 133.0h10.0M425.0 128.0v10.0M462.0 105.0h10.0M467.0 100.0v10.0M380.8 141.6h10.0M385.8 136.6v10.0M387.6 136.4h10.0M392.6 131.4v10.0M391.9 135.6h10.0M396.9 130.6v10.0M396.2 133.8h10.0M401.2 128.8v10.0M408.8 131.9h10.0M413.8 126.9v10.0M421.9 137.8h10.0M426.9 132.8v10.0M405.0 143.8h10.0M410.0 138.8v10.0M404.4 150.6h10.0M409.4 145.6v10.0M410.6 166.2h10.0M415.6 161.2v10.0M326.2 93.8h10.0M331.2 88.8v10.0M351.9 94.8h10.0M356.9 89.8v10.0M369.8 93.1h10.0M374.8 88.1v10.0M371.9 95.6h10.0M376.9 90.6v10.0M368.6 101.3h10.0M373.6 96.3v10.0M372.3 107.1h10.0M377.3 102.1v10.0M333.8 105.0h10.0M338.8 100.0v10.0M338.8 108.8h10.0M343.8 103.8v10.0M362.0 110.0h10.0M367.0 105.0v10.0M355.6 111.2h10.0M360.6 106.2v10.0M352.5 115.6h10.0M357.5 110.6v10.0M316.9 121.2h10.0M321.9 116.2v10.0M350.6 123.1h10.0M355.6 118.1v10.0M333.8 126.2h10.0M338.8 121.2v10.0M380.1 118.5h10.0M385.1 113.5v10.0M380.5 123.4h10.0M385.5 118.4v10.0M378.4 129.0h10.0M383.4 124.0v10.0M366.6 136.7h10.0M371.6 131.7v10.0M291.2 135.0h10.0M296.2 130.0v10.0M290.0 139.4h10.0M295.0 134.4v10.0M300.0 141.9h10.0M305.0 136.9v10.0M305.0 138.1h10.0M310.0 133.1v10.0M280.6 149.4h10.0M285.6 144.4v10.0M288.7 154.5h10.0M293.7 149.5v10.0M268.8 164.4h10.0M273.8 159.4v10.0M275.6 167.5h10.0M280.6 162.5v10.0M293.5 164.2h10.0M298.5 159.2v10.0M303.6 160.7h10.0M308.6 155.7v10.0M303.2 163.8h10.0M308.2 158.8v10.0M312.8 158.5h10.0M317.8 153.5v10.0M315.9 160.7h10.0M320.9 155.7v10.0M316.3 169.0h10.0M321.3 164.0v10.0M286.8 173.2h10.0M291.8 168.2v10.0M299.2 173.4h10.0M304.2 168.4v10.0M311.0 176.0h10.0M316.0 171.0v10.0M266.6 174.1h10.0M271.6 169.1v10.0M313.1 140.6h10.0M318.1 135.6v10.0M318.5 136.4h10.0M323.5 131.4v10.0M323.1 136.5h10.0M328.1 131.5v10.0M330.6 136.9h10.0M335.6 131.9v10.0M315.7 141.0h10.0M320.7 136.0v10.0M323.1 141.3h10.0M328.1 136.3v10.0M327.5 146.2h10.0M332.5 141.2v10.0M325.0 148.5h10.0M330.0 143.5v10.0M328.8 150.4h10.0M333.8 145.4v10.0M318.5 150.4h10.0M323.5 145.4v10.0M314.7 156.0h10.0M319.7 151.0v10.0M324.0 156.0h10.0M329.0 151.0v10.0M329.2 159.3h10.0M334.2 154.3v10.0M359.8 134.7h10.0M364.8 129.7v10.0M365.0 143.0h10.0M370.0 138.0v10.0M345.2 148.8h10.0M350.2 143.8v10.0M349.4 149.3h10.0M354.4 144.3v10.0M360.3 152.9h10.0M365.3 147.9v10.0M366.6 150.8h10.0M371.6 145.8v10.0M370.2 151.9h10.0M375.2 146.9v10.0M362.9 156.0h10.0M367.9 151.0v10.0M367.1 155.0h10.0M372.1 150.0v10.0M360.8 161.2h10.0M365.8 156.2v10.0M352.5 164.4h10.0M357.5 159.4v10.0M373.3 166.5h10.0M378.3 161.5v10.0M348.8 167.5h10.0M353.8 162.5v10.0M362.5 168.8h10.0M367.5 163.8v10.0M346.2 172.5h10.0M351.2 167.5v10.0M356.2 171.9h10.0M361.2 166.9v10.0M326.2 160.5h10.0M331.2 155.5v10.0M385.8 167.5h10.0M390.8 162.5v10.0M389.5 174.0h10.0M394.5 169.0v10.0M386.2 176.5h10.0M391.2 171.5v10.0M383.3 179.8h10.0M388.3 174.8v10.0M372.5 177.4h10.0M377.5 172.4v10.0M389.6 205.9h10.0M394.6 200.9v10.0M403.1 214.2h10.0M408.1 209.2v10.0M243.1 164.4h10.0M248.1 159.4v10.0M213.5 187.8h10.0M218.5 182.8v10.0M238.1 188.8h10.0M243.1 183.8v10.0M211.9 204.3h10.0M216.9 199.3v10.0M247.5 196.9h10.0M252.5 191.9v10.0M249.4 179.4h10.0M254.4 174.4v10.0M261.2 188.8h10.0M266.2 183.8v10.0M270.0 184.4h10.0M275.0 179.4v10.0M276.2 185.6h10.0M281.2 180.6v10.0M271.2 193.8h10.0M276.2 188.8v10.0M275.0 200.0h10.0M280.0 195.0v10.0M278.8 197.5h10.0M283.8 192.5v10.0M283.8 181.9h10.0M288.8 176.9v10.0M294.4 186.2h10.0M299.4 181.2v10.0M292.5 195.0h10.0M297.5 190.0v10.0M296.9 203.8h10.0M301.9 198.8v10.0M273.8 206.2h10.0M278.8 201.2v10.0M273.1 211.2h10.0M278.1 206.2v10.0M250.3 210.6h10.0M255.3 205.6v10.0M306.2 192.5h10.0M311.2 187.5v10.0M305.0 207.5h10.0M310.0 202.5v10.0M303.8 177.5h10.0M308.8 172.5v10.0M288.8 207.5h10.0M293.8 202.5v10.0M277.5 203.8h10.0M282.5 198.8v10.0M315.0 177.4h10.0M320.0 172.4v10.0M333.2 176.7h10.0M338.2 171.7v10.0M340.0 177.4h10.0M345.0 172.4v10.0M345.3 176.0h10.0M350.3 171.0v10.0M349.4 174.0h10.0M354.4 169.0v10.0M363.5 174.0h10.0M368.5 169.0v10.0M362.8 185.5h10.0M367.8 180.5v10.0M346.0 186.1h10.0M351.0 181.1v10.0M329.2 184.8h10.0M334.2 179.8v10.0M326.5 188.8h10.0M331.5 183.8v10.0M311.7 189.5h10.0M316.7 184.5v10.0M316.4 191.5h10.0M321.4 186.5v10.0M343.3 196.9h10.0M348.3 191.9v10.0M329.2 200.3h10.0M334.2 195.3v10.0M326.5 205.0h10.0M331.5 200.0v10.0M326.5 208.3h10.0M331.5 203.3v10.0M318.2 214.7h10.0M323.2 209.7v10.0M326.5 215.0h10.0M331.5 210.0v10.0M342.0 218.4h10.0M347.0 213.4v10.0M310.3 209.0h10.0M315.3 204.0v10.0M161.0 235.6h10.0M166.0 230.6v10.0M201.2 225.0h10.0M206.2 220.0v10.0M204.7 214.1h10.0M209.7 209.1v10.0M202.5 232.5h10.0M207.5 227.5v10.0M209.4 213.8h10.0M214.4 208.8v10.0M220.0 215.0h10.0M225.0 210.0v10.0M220.6 218.1h10.0M225.6 213.1v10.0M225.4 224.9h10.0M230.4 219.9v10.0M230.8 225.6h10.0M235.8 220.6v10.0M227.1 228.4h10.0M232.1 223.4v10.0M221.5 229.4h10.0M226.5 224.4v10.0M253.8 213.8h10.0M258.8 208.8v10.0M261.2 231.9h10.0M266.2 226.9v10.0M205.6 241.9h10.0M210.6 236.9v10.0M258.8 241.2h10.0M263.8 236.2v10.0M271.2 213.1h10.0M276.2 208.1v10.0M286.2 213.8h10.0M291.2 208.8v10.0M305.0 212.5h10.0M310.0 207.5v10.0M285.0 221.2h10.0M290.0 216.2v10.0M281.9 228.8h10.0M286.9 223.8v10.0M310.0 221.9h10.0M315.0 216.9v10.0M318.8 226.2h10.0M323.8 221.2v10.0M300.0 231.2h10.0M305.0 226.2v10.0M313.8 231.9h10.0M318.8 226.9v10.0M322.5 228.8h10.0M327.5 223.8v10.0M295.0 240.0h10.0M300.0 235.0v10.0M313.8 240.0h10.0M318.8 235.0v10.0M318.8 242.5h10.0M323.8 237.5v10.0M262.5 242.5h10.0M267.5 237.5v10.0M286.9 251.2h10.0M291.9 246.2v10.0M300.6 248.8h10.0M305.6 243.8v10.0M267.5 226.9h10.0M272.5 221.9v10.0M366.1 225.0h10.0M371.1 220.0v10.0M351.1 231.9h10.0M356.1 226.9v10.0M336.8 227.5h10.0M341.8 222.5v10.0M328.0 226.9h10.0M333.0 221.9v10.0M326.8 230.6h10.0M331.8 225.6v10.0M341.8 244.4h10.0M346.8 239.4v10.0M272.5 261.2h10.0M277.5 256.2v10.0M278.8 259.4h10.0M283.8 254.4v10.0M285.0 253.8h10.0M290.0 248.8v10.0M292.5 272.5h10.0M297.5 267.5v10.0M284.4 285.0h10.0M289.4 280.0v10.0M293.8 246.9h10.0M298.8 241.9v10.0M258.1 246.2h10.0M263.1 241.2v10.0M208.8 243.8h10.0M213.8 238.8v10.0M246.2 253.8h10.0M251.2 248.8v10.0M232.5 259.4h10.0M237.5 254.4v10.0M246.2 270.6h10.0M251.2 265.6v10.0M235.0 275.6h10.0M240.0 270.6v10.0M226.2 258.8h10.0M231.2 253.8v10.0M154.4 267.5h10.0M159.4 262.5v10.0M175.6 268.8h10.0M180.6 263.8v10.0M165.4 293.1h10.0M170.4 288.1v10.0M221.0 221.5h10.0M226.0 216.5v10.0M226.0 231.5h10.0M231.0 226.5v10.0M233.0 231.0h10.0M238.0 226.0v10.0M277.5 183.0h10.0M282.5 178.0v10.0M268.8 188.4h10.0M273.8 183.4v10.0M272.0 197.2h10.0M277.0 192.2v10.0" stroke="#e0141f" stroke-width="1.3" fill="none"/>
<g font-size="13.3">
<text x="65.9" y="319.6" text-anchor="end">1</text>
<text x="65.9" y="203" text-anchor="end">10</text>
<text x="65.9" y="86.5" text-anchor="end">100</text>
<text x="63" y="336.7">10<tspan font-size="9.6" dy="-5.2" dx="0.4">11</tspan></text>
<text x="403" y="336.7">10<tspan font-size="9.6" dy="-5.2" dx="0.4">12</tspan></text>
<text x="249" y="362" font-size="13" letter-spacing="0.45">Bulge mass [<tspan font-style="italic">M</tspan><tspan font-size="10" dy="2">&#8857;</tspan><tspan dy="-2">]</tspan></text>
</g>
<g transform="translate(10,186.6) rotate(-90)" font-style="italic">
<text x="0" y="0" font-size="13">R</text>
<text x="9.3" y="1.6" font-size="8.5">e</text>
<text x="14.6" y="1.6" font-size="8.5">,</text>
<text x="17.6" y="1.6" font-size="8.5">f</text>
<text x="33" y="0" font-size="13">R</text>
<text x="41.4" y="1.6" font-size="8.5">e</text>
<text x="46.8" y="1.6" font-size="8.5">,</text>
<text x="50" y="1.6" font-size="8.5">i</text>
</g>
<path d="M11.5 159.4L0.4 153.9" stroke="#333" stroke-width="0.9"/>
</svg>
</body></html>
